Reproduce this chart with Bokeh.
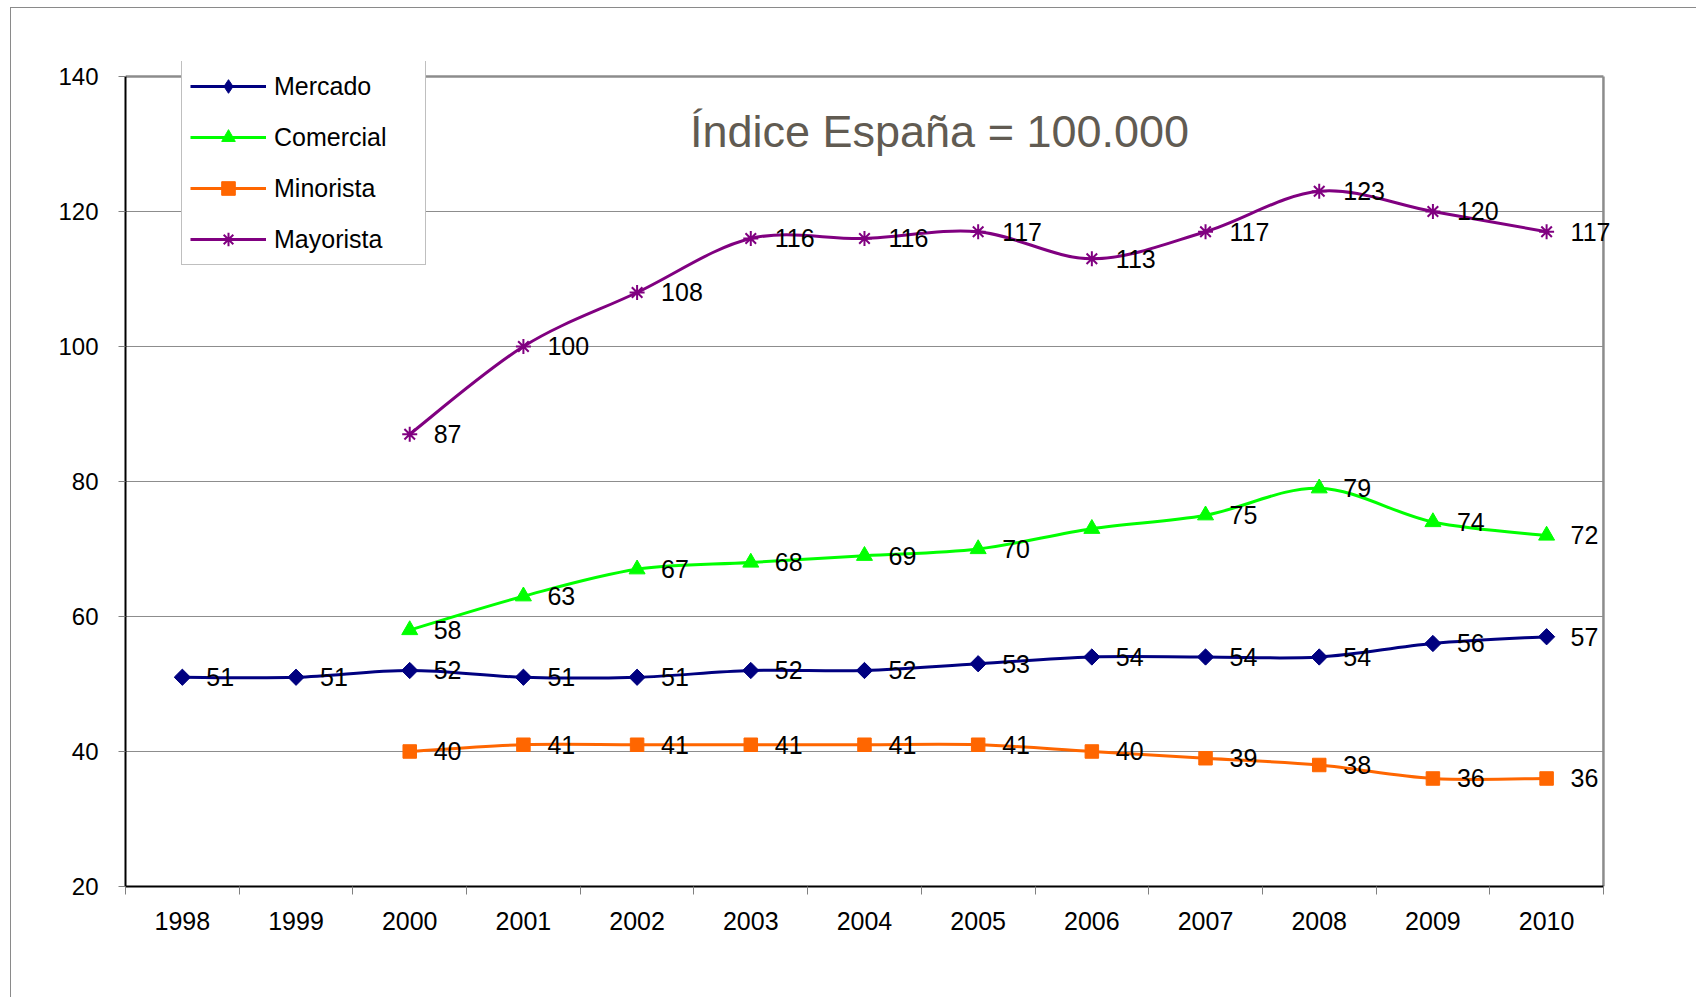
import numpy as np
from bokeh.plotting import figure
from bokeh.models import Range1d, FixedTicker, Legend, LegendItem, Label
from bokeh.embed import file_html
from bokeh.resources import INLINE
from bokeh.core.properties import value

# ---------------- data ----------------
years = [1998, 1999, 2000, 2001, 2002, 2003, 2004, 2005, 2006, 2007, 2008, 2009, 2010]
years_b = years[2:]

mercado = [51, 51, 52, 51, 51, 52, 52, 53, 54, 54, 54, 56, 57]
comercial = [58, 63, 67, 68, 69, 70, 73, 75, 79, 74, 72]
minorista = [40, 41, 41, 41, 41, 41, 40, 39, 38, 36, 36]
mayorista = [87, 100, 108, 116, 116, 117, 113, 117, 123, 120, 117]

# which data labels are shown (the 2006 "Comercial" label is absent in the original)
comercial_show = [True, True, True, True, True, True, False, True, True, True, True]

series_names = ["Mercado", "Comercial", "Minorista", "Mayorista"]
y_ticks = [20, 40, 60, 80, 100, 120, 140]
title_text = "Índice España = 100.000"

FONT = "Liberation Sans"
GRID = "#8c8c8c"


def smooth(xs, ys):
    """Bezier control points for a smoothed line through the data points."""
    x = np.asarray(xs, float)
    y = np.asarray(ys, float)
    n = len(x)
    xp = np.concatenate([[x[0]], x, [x[-1]]])
    yp = np.concatenate([[y[0]], y, [y[-1]]])
    cx0 = xp[1:n] + (xp[2:n + 1] - xp[0:n - 1]) / 6.0
    cy0 = yp[1:n] + (yp[2:n + 1] - yp[0:n - 1]) / 6.0
    cx1 = xp[2:n + 1] - (xp[3:n + 2] - xp[1:n]) / 6.0
    cy1 = yp[2:n + 1] - (yp[3:n + 2] - yp[1:n]) / 6.0
    return dict(x0=x[:-1], y0=y[:-1], x1=x[1:], y1=y[1:], cx0=cx0, cy0=cy0, cx1=cx1, cy1=cy1)


x_lo = years[0] - 0.5
x_hi = years[-1] + 0.5
y_lo = y_ticks[0]
y_hi = y_ticks[-1]

p = figure(width=1686, height=990, output_backend="svg", toolbar_location=None,
           x_range=Range1d(x_lo, x_hi + 0.194),
           y_range=Range1d(y_lo, y_hi + 2.22),
           min_border_left=114, min_border_right=72, min_border_top=53, min_border_bottom=112)
p.styles = {"margin-left": "10px", "margin-top": "7px",
            "border-top": "1px solid #8a8a8a", "border-left": "1px solid #8a8a8a"}

p.background_fill_color = "white"
p.border_fill_color = "white"
p.outline_line_color = None
p.xgrid.grid_line_color = None
p.ygrid.grid_line_color = None

# horizontal gridlines (bounded to the plot area)
inner = y_ticks[1:-1]
p.segment(x0=[x_lo] * len(inner), y0=inner, x1=[x_hi] * len(inner), y1=inner,
          line_color=GRID, line_width=1)
# plot-area border (top and right)
p.segment(x0=[x_lo, x_hi], y0=[y_hi, y_lo], x1=[x_hi, x_hi], y1=[y_hi, y_hi],
          line_color=GRID, line_width=2.5)

# y axis
p.yaxis.bounds = (y_lo, y_hi)
p.yaxis.ticker = FixedTicker(ticks=y_ticks)
p.yaxis.axis_line_color = "black"
p.yaxis.axis_line_width = 2
p.yaxis.major_tick_out = 7
p.yaxis.major_tick_in = 0
p.yaxis.major_tick_line_color = "#808080"
p.yaxis.minor_tick_line_color = None
p.yaxis.major_label_standoff = 20
p.yaxis.major_label_text_font = FONT
p.yaxis.major_label_text_font_size = "24px"
p.yaxis.major_label_text_color = "black"

# x axis (category style: labels centred, ticks between categories)
p.xaxis.bounds = (x_lo, x_hi)
p.xaxis.ticker = FixedTicker(ticks=years, minor_ticks=[y - 0.5 for y in years] + [x_hi])
p.xaxis.axis_line_color = "black"
p.xaxis.axis_line_width = 2
p.xaxis.major_tick_line_color = None
p.xaxis.major_tick_out = 0
p.xaxis.major_tick_in = 0
p.xaxis.minor_tick_line_color = "#808080"
p.xaxis.minor_tick_out = 8
p.xaxis.minor_tick_in = 0
p.xaxis.major_label_standoff = 17
p.xaxis.major_label_text_font = FONT
p.xaxis.major_label_text_font_size = "25px"
p.xaxis.major_label_text_color = "black"

colors = ["#000080", "#00FF00", "#FF6600", "#800080"]

# Mercado
l1 = p.bezier(line_color=colors[0], line_width=3, **smooth(years, mercado))
p.scatter(years, mercado, marker="square", angle=np.pi / 4, size=11.5,
          fill_color=colors[0], line_color=colors[0])
m1 = p.scatter([np.nan], [np.nan], marker="diamond", size=15,
               fill_color=colors[0], line_color=colors[0])  # legend proxy
# Comercial
l2 = p.bezier(line_color=colors[1], line_width=3, **smooth(years_b, comercial))
m2 = p.scatter(years_b, comercial, marker="triangle", size=16,
               fill_color=colors[1], line_color=colors[1])
# Minorista
l3 = p.bezier(line_color=colors[2], line_width=3, **smooth(years_b, minorista))
m3 = p.scatter(years_b, minorista, marker="square", size=13.5,
               fill_color=colors[2], line_color=colors[2])
# Mayorista
l4 = p.bezier(line_color=colors[3], line_width=3, **smooth(years_b, mayorista))
m4 = p.scatter(years_b, mayorista, marker="asterisk", size=15,
               line_color=colors[3], line_width=2)

# data labels
lab_kw = dict(x_offset=24, text_baseline="middle", text_align="left",
              text_font=value(FONT), text_font_size="25px", text_color="black")
p.text(years, mercado, text=[str(v) for v in mercado], **lab_kw)
cx = [x for x, s in zip(years_b, comercial_show) if s]
cy = [v for v, s in zip(comercial, comercial_show) if s]
p.text(cx, cy, text=[str(v) for v in cy], **lab_kw)
p.text(years_b, minorista, text=[str(v) for v in minorista], **lab_kw)
p.text(years_b, mayorista, text=[str(v) for v in mayorista], **lab_kw)

legend = Legend(items=[
    LegendItem(label=series_names[0], renderers=[l1, m1]),
    LegendItem(label=series_names[1], renderers=[l2, m2]),
    LegendItem(label=series_names[2], renderers=[l3, m3]),
    LegendItem(label=series_names[3], renderers=[l4, m4]),
], location=(56, 621), padding=8, spacing=17, glyph_width=76, glyph_height=34,
    label_height=34, label_width=143, label_standoff=8, margin=0,
    label_text_font=FONT, label_text_font_size="25px", label_text_color="black",
    border_line_color="#808080", border_line_width=1.5,
    background_fill_color="white", background_fill_alpha=1.0)
p.add_layout(legend)

p.add_layout(Label(x=2004.66, y=131.9, text=title_text, text_align="center",
                   text_baseline="alphabetic", text_font=FONT, text_font_size="45px",
                   text_color="#615b52"))

open("out.html", "w").write(file_html(p, INLINE))
